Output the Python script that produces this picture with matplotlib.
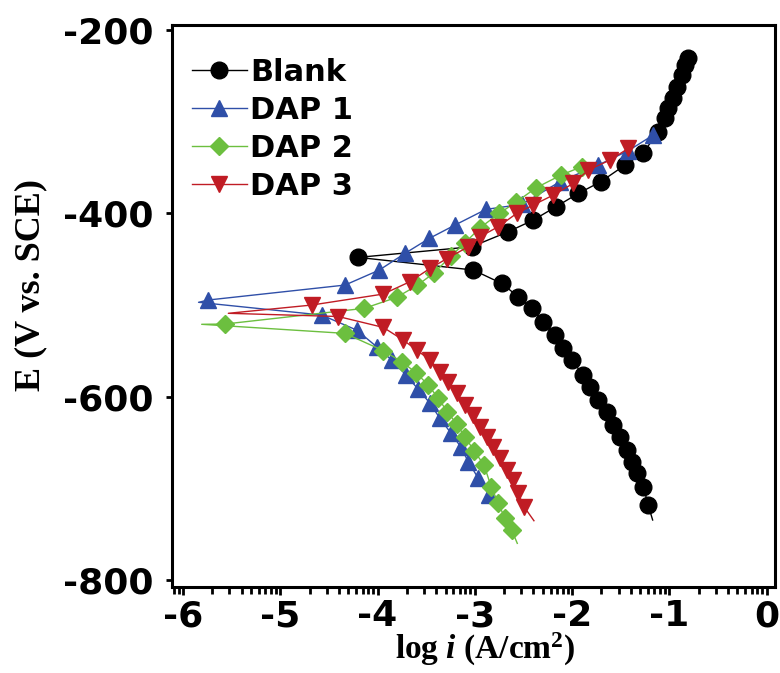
import numpy as np
import matplotlib
matplotlib.use('Agg')
import matplotlib.pyplot as plt

# datos (log i, E en mV vs SCE)
# cada curva: rama catodica de abajo hacia arriba, Ecorr, rama anodica
logi_blank = [-1.173, -1.218, -1.269, -1.337, -1.389, -1.440, -1.509, -1.578, -1.646, -1.732,
              -1.817, -1.886, -2.005, -2.091, -2.177, -2.297, -2.417, -2.554, -2.725, -3.016,
              -4.198,
              -3.033, -2.657, -2.400, -2.166, -1.937, -1.707, -1.457, -1.269, -1.115, -1.046,
              -1.012, -0.967, -0.926, -0.874, -0.841, -0.807]
E_blank = [-734.5, -718.2, -698.2, -683.6, -670.9, -658.2, -643.7, -630.9, -616.4, -603.6,
           -589.1, -576.4, -560.0, -547.3, -532.7, -518.2, -503.6, -490.9, -476.4, -461.8,
           -448.0,
           -436.4, -420.0, -407.3, -392.7, -378.2, -365.5, -347.3, -333.8, -311.0, -296.4,
           -285.5, -274.5, -261.8, -249.1, -238.2, -230.9]

logi_dap1 = [-2.745, -2.852, -2.965, -3.068, -3.146, -3.249, -3.359, -3.461, -3.581, -3.708,
             -3.855, -4.009, -4.215, -4.575,
             -5.840, -5.740,
             -4.335, -3.982, -3.718, -3.469, -3.204, -2.886, -2.519, -2.125, -1.732, -1.423, -1.166]
E_dap1 = [-724.0, -707.3, -689.0, -670.9, -654.6, -639.3, -623.6, -607.2, -592.0, -576.4,
          -560.0, -545.5, -527.3, -510.9,
          -497.0, -494.5,
          -478.2, -461.8, -443.6, -427.3, -412.7, -395.6, -390.2, -365.4, -347.3, -331.6, -314.5]

logi_dap2 = [-2.564, -2.622, -2.691, -2.759, -2.830, -2.906, -3.009, -3.102, -3.187, -3.283,
             -3.376, -3.479, -3.605, -3.752, -3.941, -4.335,
             -5.808, -5.568,
             -4.137, -3.804, -3.594, -3.420, -3.250, -3.100, -2.950, -2.750, -2.580, -2.370,
             -2.110, -1.900]
E_dap2 = [-760.0, -745.4, -732.7, -716.3, -699.0, -674.5, -658.9, -643.7, -629.8, -616.4,
          -601.8, -587.3, -573.8, -561.8, -549.8, -530.9,
          -521.0, -520.7,
          -503.6, -491.6, -478.6, -465.0, -447.0, -432.0, -416.0, -400.0, -388.0, -372.0,
          -358.0, -349.0]

logi_dap3 = [-2.393, -2.495, -2.554, -2.605, -2.673, -2.742, -2.811, -2.879, -2.948, -3.016,
             -3.102, -3.187, -3.273, -3.359, -3.461, -3.598, -3.736, -3.941, -4.404,
             -5.534,
             -4.677, -3.941, -3.667, -3.461, -3.290, -3.068, -2.948, -2.759, -2.570, -2.400,
             -2.194, -1.989, -1.834, -1.611, -1.423]
E_dap3 = [-735.3, -720.0, -705.5, -690.9, -680.0, -667.3, -654.6, -643.7, -632.7, -620.0,
          -609.1, -596.4, -583.7, -572.7, -560.0, -549.1, -538.2, -524.4, -512.5,
          -509.0,
          -500.0, -488.0, -474.5, -460.0, -449.5, -436.4, -425.5, -414.5, -400.0, -390.9,
          -380.0, -367.3, -352.7, -341.8, -329.1]

# puntos sin marcador (extremos de la linea)
sin_marca_blank = [0]
sin_marca_dap1 = [0, 14]
sin_marca_dap2 = [0, 16]
sin_marca_dap3 = [0, 19]

nombres = ['Blank', 'DAP 1', 'DAP 2', 'DAP 3']
colores = ['black', '#2f4fa8', '#6cbf3f', '#c01c24']
marcas = ['o', '^', 'D', 'v']
tamanos = [12, 12, 9, 12]

plt.rcParams['font.family'] = 'DejaVu Sans'
plt.rcParams['font.weight'] = 'bold'
plt.rcParams['mathtext.fontset'] = 'custom'
plt.rcParams['mathtext.rm'] = 'Liberation Serif:bold'
plt.rcParams['mathtext.it'] = 'Liberation Serif:bold:italic'

fig = plt.figure(figsize=(7.8, 6.73), dpi=100)
ax = fig.add_axes([0.2205, 0.1278, 0.773, 0.835])

series = [(logi_blank, E_blank, sin_marca_blank),
          (logi_dap1, E_dap1, sin_marca_dap1),
          (logi_dap2, E_dap2, sin_marca_dap2),
          (logi_dap3, E_dap3, sin_marca_dap3)]

for (x, y, sm), nom, c, m, ms in zip(series, nombres, colores, marcas, tamanos):
    idx = [i for i in range(len(x)) if i not in sm]
    ax.plot(x, y, color=c, lw=1.0, marker=m, ms=ms, mec=c, mfc=c,
            markevery=idx, label=nom)

ax.set_xlim(-6.113, 0.084)
ax.set_ylim(-807.6, -194.5)

ax.set_xticks(np.arange(-6, 1, 1))
ax.set_xticklabels(['-6', '-5', '-4', '-3', '-2', '-1', '0'])
menores = [k + np.log10(m) for k in range(-7, 1) for m in range(2, 10)]
menores = [v for v in menores if -6.113 < v < 0.084]
ax.set_xticks(menores, minor=True)
ax.set_yticks([-800, -600, -400, -200])
ax.set_yticklabels(['-800', '-600', '-400', '-200'])

for s in ax.spines.values():
    s.set_linewidth(2.2)

ax.tick_params(axis='x', which='major', direction='out', length=6, width=2, pad=3,
               labelsize=26)
ax.tick_params(axis='x', which='minor', direction='out', length=5, width=2)
ax.tick_params(axis='y', which='major', direction='out', length=4, width=2, pad=9,
               labelsize=26)

ax.set_ylabel('E (V vs. SCE)', family='Liberation Serif', fontweight='bold', fontsize=26)
ax.yaxis.set_label_coords(-0.206, 0.537)
ax.set_xlabel(r'log $i$ (A/cm$^\mathrm{2}$)', family='Liberation Serif',
              fontweight='bold', fontsize=24)
ax.xaxis.set_label_coords(0.519, -0.078)

leg = ax.legend(loc='upper left', bbox_to_anchor=(0.033, 0.942), frameon=False,
                borderpad=0, borderaxespad=0, handlelength=1.8, handletextpad=0.1,
                labelspacing=0.3, prop={'family': 'DejaVu Sans', 'weight': 'bold',
                                        'size': 22})

fig.savefig('out.png', dpi=100)
